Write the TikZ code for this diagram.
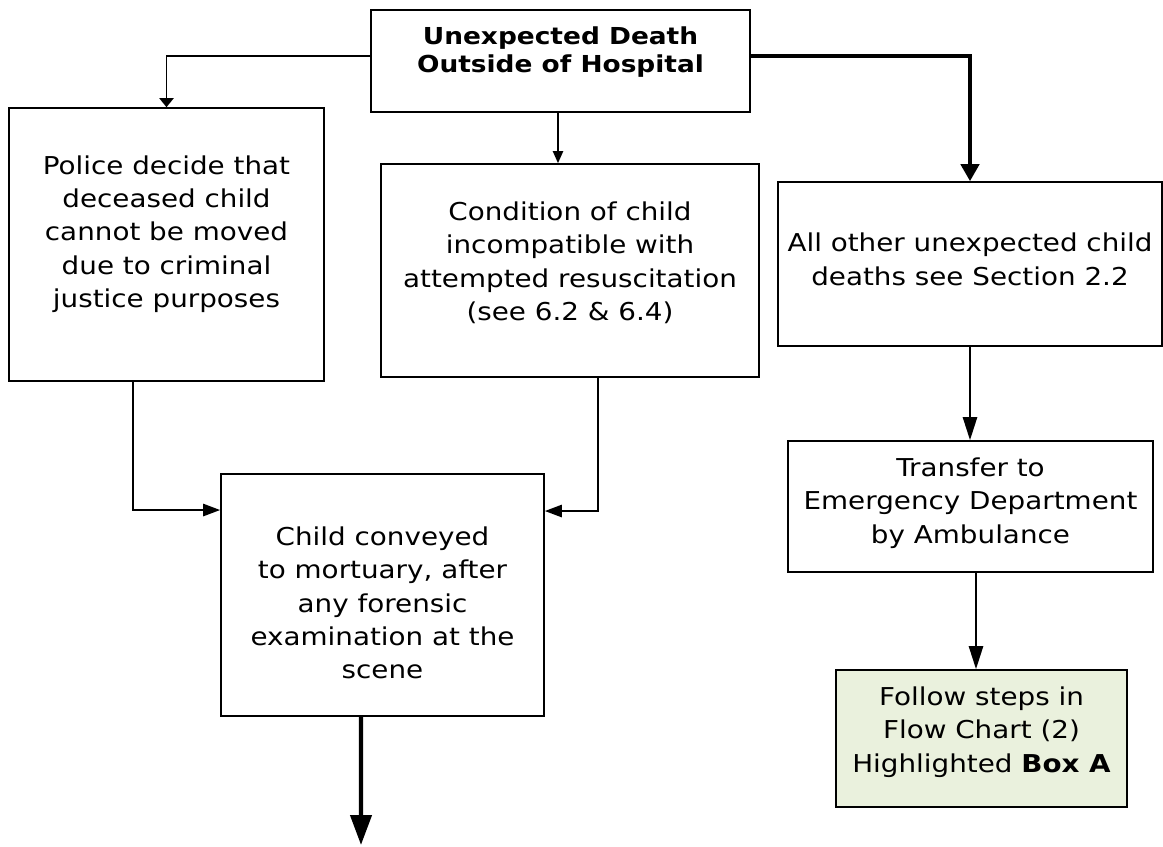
\documentclass[tikz,border=0pt]{standalone}
\usepackage{fontspec}
\setmainfont{DejaVu Sans}[FakeStretch=1.13]
\usetikzlibrary{arrows.meta}
\definecolor{boxgreen}{HTML}{EAF1DD}

\begin{document}
\begin{tikzpicture}[x=0.02cm,y=-0.02cm,
	box/.style={draw, line width=0.9pt, align=center, inner sep=0pt, font=\fontsize{14}{19}\selectfont},
	link/.style={line width=1.4pt},
	heavylink/.style={line width=2.4pt}]
	\useasboundingbox (0,0) rectangle (1163,846);

	\node[box, font=\fontsize{13.3}{16}\selectfont, text depth=0.46cm, minimum width=7.58cm, minimum height=2.04cm] (top) at (560.5,61) {\textbf{Unexpected Death}\\\textbf{Outside of Hospital}};
	\node[box, text depth=0.52cm, minimum width=6.3cm, minimum height=5.46cm] (police) at (166.5,244.5) {Police decide that\\deceased child\\cannot be moved\\due to criminal\\justice purposes};
	\node[box, text depth=0.38cm, minimum width=7.56cm, minimum height=4.26cm] (cond) at (570,270.5) {Condition of child\\incompatible with\\attempted resuscitation\\(see 6.2 \& 6.4)};
	\node[box, text depth=0.2cm, minimum width=7.68cm, minimum height=3.28cm] (other) at (970,264) {All other unexpected child\\deaths see Section 2.2};
	\node[box, text depth=0.24cm, minimum width=7.3cm, minimum height=2.62cm] (transfer) at (970.5,506.5) {Transfer to\\Emergency Department\\by Ambulance};
	\node[box, text height=95.5pt, text depth=0pt, minimum width=6.46cm, minimum height=4.84cm] (child) at (382.5,595) {Child conveyed\\to mortuary, after\\any forensic\\examination at the\\scene};
	\node[box, fill=boxgreen, text depth=0.36cm, minimum width=5.82cm, minimum height=2.74cm] (follow) at (981.5,738.5) {Follow steps in\\Flow Chart (2)\\Highlighted \textbf{Box A}};
	\coordinate (onward) at (361,845);

	\draw[link, line width=1.1pt, -{Triangle[width=0.28cm, length=0.18cm]}] ([yshift=0.1cm]top.west) -| (police.north);
	\draw[link, line width=1.1pt, -{Triangle[width=0.2cm, length=0.24cm]}] ([xshift=-0.05cm]top.south) -- ([xshift=-0.05cm]top.south |- cond.north);
	\draw[heavylink, -{Triangle[width=0.36cm, length=0.34cm]}] ([yshift=0.1cm]top.east) -| (other.north);
	\draw[link, -{Triangle[width=0.24cm, length=0.34cm]}] ([xshift=-0.67cm]police.south) |- ([yshift=1.7cm]child.west);
	\draw[link, -{Triangle[width=0.24cm, length=0.34cm]}] ([xshift=0.56cm]cond.south) |- ([yshift=1.68cm]child.east);
	\draw[link, -{Triangle[width=0.28cm, length=0.46cm]}] (other.south) -- (other.south |- transfer.north);
	\draw[link, -{Triangle[width=0.28cm, length=0.46cm]}] ([xshift=0.11cm]transfer.south) -- ([xshift=0.11cm]transfer.south |- follow.north);
	\draw[heavylink, -{Triangle[width=0.42cm, length=0.6cm]}] ([xshift=-0.43cm]child.south) -- (onward);
\end{tikzpicture}
\end{document}
